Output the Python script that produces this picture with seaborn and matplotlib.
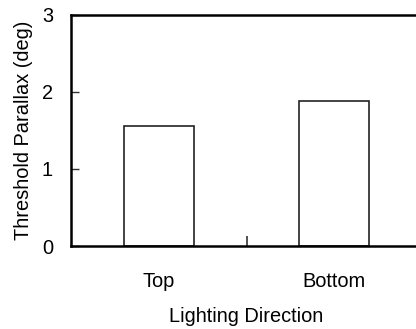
import matplotlib
matplotlib.use("Agg")
import matplotlib.pyplot as plt
from matplotlib.ticker import FixedLocator
import seaborn as sns
import pandas as pd

# Mean threshold parallax for each lighting direction
directions = ["Top", "Bottom"]
threshold_deg = [1.55, 1.88]
y_ticks = [0, 1, 2, 3]

sns.set_style("ticks")
plt.rcParams["font.family"] = ["Liberation Sans", "DejaVu Sans"]
plt.rcParams["text.color"] = "black"
plt.rcParams["axes.labelcolor"] = "black"

df = pd.DataFrame({"Lighting Direction": directions,
                   "Threshold Parallax (deg)": threshold_deg})

fig = plt.figure(figsize=(4.16, 3.29), dpi=100)
ax = fig.add_axes([71 / 416, 1 - 246 / 329, 351 / 416, (246 - 14.7) / 329])

sns.barplot(data=df, x="Lighting Direction", y="Threshold Parallax (deg)",
            color="white", edgecolor="#222222", linewidth=1.2, width=0.4,
            saturation=1, ax=ax)

ax.set_xlim(-0.5, 1.5)
ax.set_ylim(0, 3)
ax.set_yticks(y_ticks)
ax.set_yticklabels([str(t) for t in y_ticks])

# Category ticks hidden; one small divider tick between the groups
ax.tick_params(axis="x", which="major", bottom=True, length=0, pad=19,
               labelsize=14.4, labelcolor="black")
ax.xaxis.set_minor_locator(FixedLocator([0.5]))
ax.tick_params(axis="x", which="minor", bottom=True, direction="in",
               length=7, width=1.2, color="#333333")
ax.tick_params(axis="y", which="major", left=True, direction="in",
               length=6, width=1.0, pad=13, labelsize=14.4,
               color="#333333", labelcolor="black")

ax.set_xlabel("Lighting Direction", fontsize=14.4, labelpad=11)
ax.set_ylabel("Threshold Parallax (deg)", fontsize=14.4, labelpad=6)

for side in ["left", "bottom", "top", "right"]:
    ax.spines[side].set_visible(True)
    ax.spines[side].set_color("black")
    ax.spines[side].set_linewidth(1.8)

fig.savefig("out.png", dpi=100)
